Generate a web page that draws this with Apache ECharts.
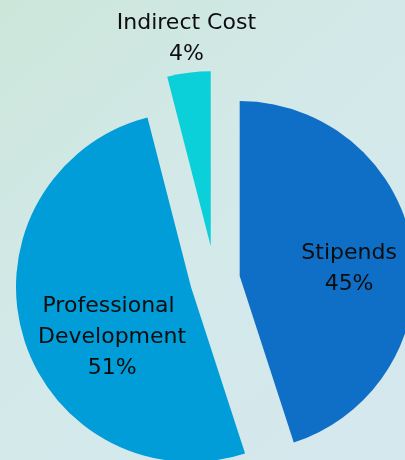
<!DOCTYPE html>
<html>
<head>
<meta charset="utf-8">
<script src="https://cdn.jsdelivr.net/npm/echarts@6/dist/echarts.min.js"></script>
<style>
html,body{margin:0;padding:0;width:405px;height:460px;overflow:hidden;}
#chart{width:405px;height:460px;}
</style>
</head>
<body>
<div id="chart"></div>
<script>
// Data
var categories = ['Stipends', 'Professional Development', 'Indirect Cost'];
var values = [45, 51, 4];

// Styles
var colors = ['#0F6FC6', '#009DD9', '#0BD0D9'];
var labelShifts = [[20, 7], [8, 25], [-13, -118]];
// two layers: main slices exploded less, small slice exploded more
var layers = [
  { visible: [0, 1], offset: 25 },
  { visible: [2], offset: 34 }
];

var chart = echarts.init(document.getElementById('chart'), null, { renderer: 'canvas' });

var series = layers.map(function (layer) {
  return {
    type: 'pie',
    center: [215, 280],
    radius: [0, 175],
    startAngle: 90,
    clockwise: true,
    selectedMode: 'multiple',
    selectedOffset: layer.offset,
    avoidLabelOverlap: false,
    animation: false,
    silent: true,
    emphasis: { disabled: true, scale: false },
    labelLine: { show: false },
    label: {
      position: 'inside',
      formatter: '{b}\n{c}%',
      color: '#0d0d0d',
      fontFamily: 'DejaVu Sans',
      fontSize: 22,
      lineHeight: 31,
      width: 170,
      overflow: 'break',
      align: 'center'
    },
    labelLayout: function (p) {
      var s = labelShifts[p.dataIndex];
      return { dx: s[0], dy: s[1] };
    },
    data: categories.map(function (name, i) {
      var vis = layer.visible.indexOf(i) >= 0;
      return {
        name: name,
        value: values[i],
        selected: vis,
        itemStyle: { color: vis ? colors[i] : 'rgba(0,0,0,0)' },
        label: { show: vis }
      };
    })
  };
});

chart.setOption({
  backgroundColor: {
    type: 'linear', x: 0, y: 0, x2: 1, y2: 1,
    colorStops: [
      { offset: 0, color: '#cce6da' },
      { offset: 0.45, color: '#d3e9e9' },
      { offset: 1, color: '#d5e8ee' }
    ]
  },
  series: series
});
</script>
</body>
</html>
